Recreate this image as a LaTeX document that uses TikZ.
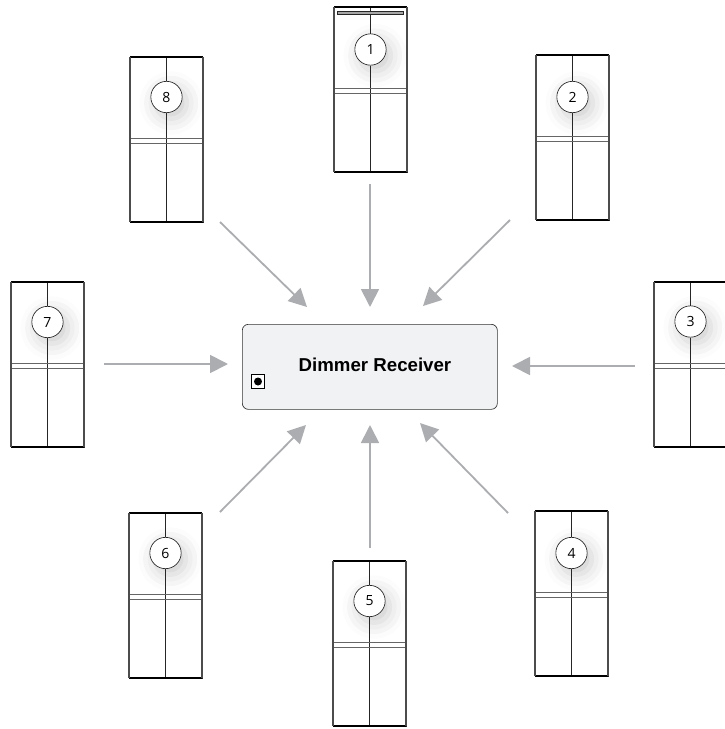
\documentclass[tikz,border=0pt]{standalone}
\usepackage{fontspec}
\setmainfont{Liberation Sans}
\newfontfamily\numfont{Open Sans}
\usetikzlibrary{arrows.meta,shadows.blur}
\definecolor{conngray}{HTML}{ABADB0}
\definecolor{rxfill}{HTML}{F1F2F4}
\tikzset{
  x=0.75pt,y=-0.75pt,
  panelbox/.style={draw=black!85,line width=0.5pt,minimum width=54.75pt,minimum height=123.75pt,inner sep=0pt,outer sep=0pt,anchor=north west},
  numcirc/.style={circle,draw=black!85,fill=white,line width=0.5pt,minimum size=23.5pt,inner sep=0pt,font=\numfont\fontsize{10.5}{12}\selectfont,
    blur shadow={shadow xshift=3.5pt,shadow yshift=-4.5pt,shadow blur radius=12pt,shadow opacity=20}},
  thin line/.style={draw=black!85,line width=0.5pt},
  rail/.style={draw=black,line width=1.1pt},
  sidebar/.style={draw=black!70,line width=1pt},
  midline/.style={draw=black!60,line width=0.6pt},
  conn/.style={draw=conngray,line width=1.35pt,-{Triangle[length=13.5pt,width=13.5pt]}},
  rxbox/.style={draw=black!80,fill=rxfill,line width=0.5pt,rounded corners=4.5pt,minimum width=191.25pt,minimum height=63.75pt,inner sep=0pt,anchor=north west},
}
\newcommand{\mypanel}[5]{% name, x, y, number, circle y
  \node[panelbox] (p#1) at (#2,#3) {};
  \node[numcirc] (c#1) at ($(#2,#5)+(36.5,0)$) {#4};
  \draw[thin line] (p#1.north) -- (c#1.north);
  \draw[thin line] (c#1.south) -- (p#1.south);
  \draw[midline] ([yshift=0.8pt]p#1.west) -- ([yshift=0.8pt]p#1.east);
  \draw[midline] ([yshift=-2.6pt]p#1.west) -- ([yshift=-2.6pt]p#1.east);
  \draw[rail] (p#1.north west) -- (p#1.north east);
  \draw[rail] (p#1.south west) -- (p#1.south east);
  \draw[sidebar] (p#1.north west) -- (p#1.south west);
  \draw[sidebar] (p#1.north east) -- (p#1.south east);
}
\usetikzlibrary{calc}
\begin{document}
\begin{tikzpicture}
\useasboundingbox (0,0) rectangle (725,729);
\clip (0,0) rectangle (725,729);
\mypanel{1}{334}{7}{1}{49.5}
\mypanel{2}{536}{55}{2}{97}
\mypanel{3}{654}{282}{3}{321.5}
\mypanel{4}{535}{511}{4}{553}
\mypanel{5}{333}{561}{5}{601}
\mypanel{6}{129}{513}{6}{553}
\mypanel{7}{11}{282}{7}{322}
\mypanel{8}{130}{57}{8}{97}
% top strip of panel 1
\node[draw=black!85,fill=black!35,line width=0.7pt,minimum width=50pt,minimum height=2.6pt,inner sep=0pt,anchor=north] (strip) at ([yshift=-3pt]p1.north) {};
\node[rxbox] (rx) at (242,324) {};
\node[font=\bfseries\fontsize{14}{16}\selectfont] (rxlabel) at (375,365) {Dimmer Receiver};
\node[draw=black,fill=white,line width=0.8pt,minimum size=10.3pt,inner sep=0pt] (led) at (258,381.5) {};
\node[circle,fill=black,minimum size=6pt,inner sep=0pt] (leddot) at (led.center) {};
\coordinate (a1) at (370,184); \coordinate (b1) at (370,307);
\coordinate (a2) at (510,220); \coordinate (b2) at (423,306);
\coordinate (a3) at (635,366); \coordinate (b3) at (512,366);
\coordinate (a4) at (508,513); \coordinate (b4) at (420,423);
\coordinate (a5) at (370,548); \coordinate (b5) at (370,425);
\coordinate (a6) at (220,512); \coordinate (b6) at (306,425);
\coordinate (a7) at (104,364); \coordinate (b7) at (228,364);
\coordinate (a8) at (220,222); \coordinate (b8) at (307,307);
\foreach \i in {1,...,8} {\draw[conn] (a\i) -- (b\i);}
\end{tikzpicture}
\end{document}
